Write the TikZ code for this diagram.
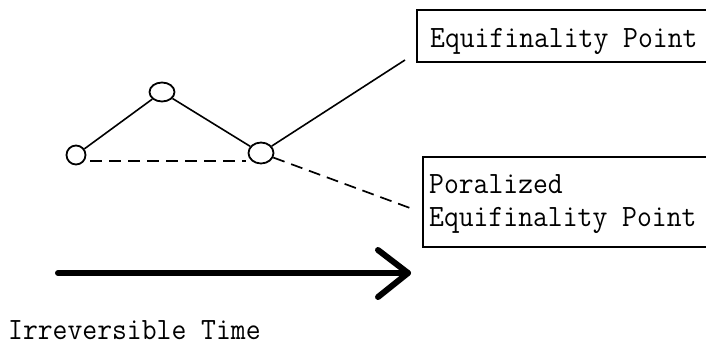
\documentclass[tikz,border=0pt]{standalone}
\usepackage{fontspec}
\newfontfamily\monofont[FakeStretch=0.93]{Latin Modern Mono}
\usetikzlibrary{shapes.geometric,arrows.meta}
\begin{document}
\begin{tikzpicture}[x=1pt,y=-1pt,
  pt/.style={draw,ellipse,line width=1.8pt,inner sep=0pt},
  conn/.style={line width=1.6pt},
  dconn/.style={line width=1.7pt,dash pattern=on 12pt off 7pt},
  lbl/.style={font=\monofont\fontsize{31}{34}\selectfont,inner sep=0pt},
  boxx/.style={draw,line width=1.8pt}]
\useasboundingbox (0,0) rectangle (706,346);
\clip (0,0) rectangle (706,346);
% points
\node[pt,minimum width=19pt,minimum height=19pt] (A) at (76,155) {};
\node[pt,minimum width=25pt,minimum height=19pt] (B) at (162,92) {};
\node[pt,minimum width=25pt,minimum height=21pt] (C) at (261,153) {};
% boxes
\draw[boxx] (417,10) rectangle (730,62);
\node[lbl,anchor=base west] (ep) at (430,47) {Equifinality Point};
\draw[boxx] (423,157) rectangle (730,247);
\node[lbl,anchor=base west] (pep1) at (429,193) {Poralized};
\node[lbl,anchor=base west] (pep2) at (429,226) {Equifinality Point};
% connectors
\coordinate (e1) at (405,60);
\coordinate (e2) at (410,208);
\coordinate (d1) at (90,161);
\coordinate (d2) at (246,161);
\draw[conn] (A) -- (B);
\draw[conn] (B) -- (C);
\draw[conn] (C) -- (e1);
\draw[dconn] (d1) -- (d2);
\draw[dconn] (C) -- (e2);
% time arrow
\coordinate (t0) at (58,273);
\coordinate (t1) at (408,273);
\draw[line width=6pt,line cap=round,line join=round] (t0) -- (t1);
\draw[line width=6pt,line cap=round,line join=round] (378,250) -- (t1) -- (378,297);
\node[lbl,anchor=base west] (it) at (8,339) {Irreversible Time};
\end{tikzpicture}
\end{document}
